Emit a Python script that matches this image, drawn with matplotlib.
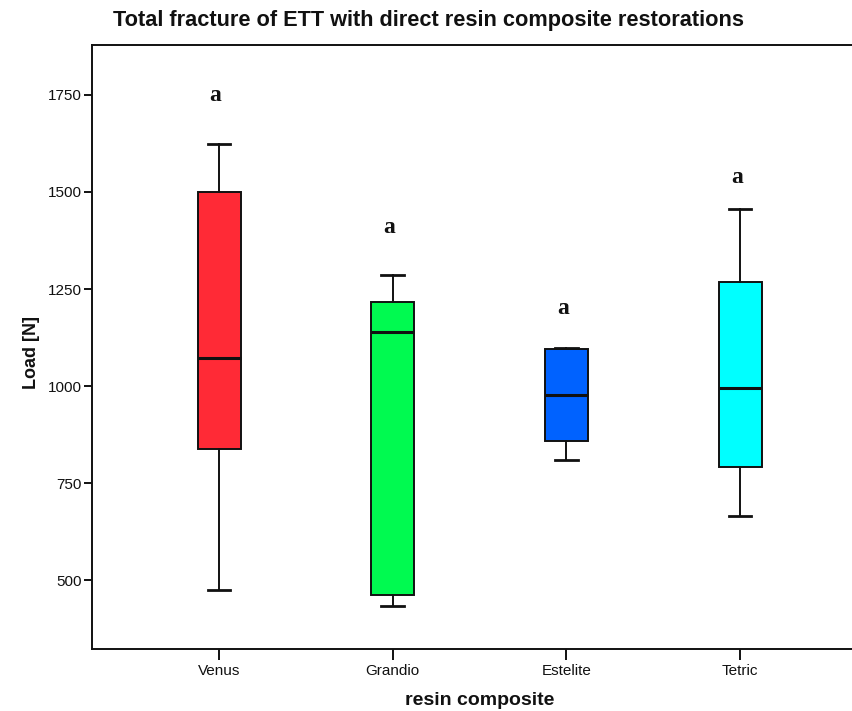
import matplotlib
matplotlib.use('Agg')
import matplotlib.pyplot as plt

categories = ['Venus', 'Grandio', 'Estelite', 'Tetric']
whisker_low = [476, 434, 810, 666]
q1 = [839, 462, 860, 791]
median = [1073, 1140, 977, 995]
q3 = [1500, 1217, 1095, 1267]
whisker_high = [1624, 1287, 1097, 1455]
letters = ['a', 'a', 'a', 'a']
letter_y = [1735, 1393, 1185, 1523]
box_colors = ['#FF2A36', '#00FA50', '#0062FF', '#00FFFF']
yticks = [500, 750, 1000, 1250, 1500, 1750]

plt.rcParams['font.family'] = ['Liberation Sans', 'DejaVu Sans']

fig = plt.figure(figsize=(8.52, 7.11), dpi=100)
ax = fig.add_axes([0.1083, 0.0876, 0.9093, 0.849])

positions = list(range(1, len(categories) + 1))
stats = []
for i, c in enumerate(categories):
    stats.append(dict(label=c, whislo=whisker_low[i], q1=q1[i], med=median[i],
                      q3=q3[i], whishi=whisker_high[i], fliers=[]))

bp = ax.bxp(stats, positions=positions, widths=0.247, patch_artist=True,
            showfliers=False, capwidths=0.13,
            boxprops=dict(edgecolor='#111111', linewidth=1.4),
            medianprops=dict(color='#111111', linewidth=2.2),
            whiskerprops=dict(color='#111111', linewidth=1.4),
            capprops=dict(color='#111111', linewidth=2.0))
for patch, col in zip(bp['boxes'], box_colors):
    patch.set_facecolor(col)

for p, t, yv in zip(positions, letters, letter_y):
    ax.text(p - 0.02, yv, t, ha='center', va='baseline', fontsize=17,
            fontweight='bold', family=['Liberation Serif', 'DejaVu Serif'],
            color='#111111')

ax.set_xlim(0.27, 4.73)
ax.set_ylim(324, 1878)
ax.set_yticks(yticks)
ax.set_yticklabels([str(v) for v in yticks])
ax.set_xticks(positions)
ax.set_xticklabels(categories)

for s in ['left', 'bottom', 'top']:
    ax.spines[s].set_linewidth(1.4)
    ax.spines[s].set_color('#111111')
ax.spines['right'].set_visible(False)

ax.tick_params(axis='y', length=6, width=1.4, pad=1.5, labelsize=11, colors='#111111')
ax.tick_params(axis='x', length=8, width=1.4, pad=3, labelsize=11, colors='#111111')

ax.set_xlabel('resin composite', fontsize=14, fontweight='bold', color='#111111')
ax.xaxis.set_label_coords(0.5, -0.085)
ax.xaxis.label.set_va('center')
ax.set_ylabel('Load [N]', fontsize=13, fontweight='bold', color='#111111')
ax.yaxis.set_label_coords(-0.078, 0.49)
ax.yaxis.label.set_va('center')

fig.text(0.503, 0.971, 'Total fracture of ETT with direct resin composite restorations',
         ha='center', va='center', fontsize=15.7, fontweight='bold', color='#111111')

fig.savefig('out.png', dpi=100)
